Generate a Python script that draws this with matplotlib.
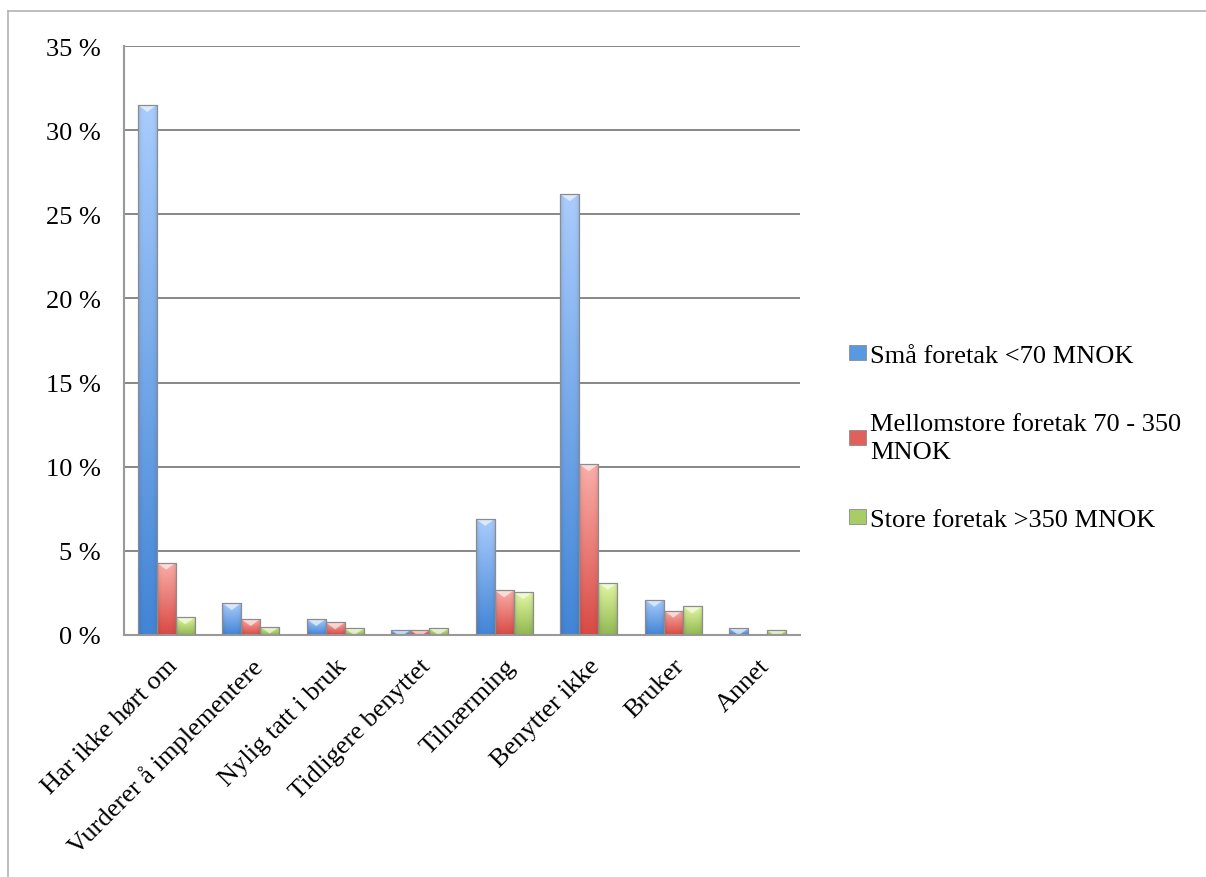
import numpy as np
import matplotlib
matplotlib.use("Agg")
import matplotlib.pyplot as plt
from matplotlib.patches import Polygon, Patch
from matplotlib.lines import Line2D
from matplotlib.ticker import MultipleLocator, FuncFormatter

# data (percent)
categories = ["Har ikke hørt om", "Vurderer å implementere", "Nylig tatt i bruk",
              "Tidligere benyttet", "Tilnærming", "Benytter ikke", "Bruker", "Annet"]
series_names = ["Små foretak <70 MNOK",
                "Mellomstore foretak 70 - 350\nMNOK",
                "Store foretak >350 MNOK"]
small = [31.5, 1.9, 0.95, 0.3, 6.9, 26.2, 2.1, 0.4]
medium = [4.3, 0.95, 0.75, 0.3, 2.65, 10.15, 1.45, 0.0]
large = [1.05, 0.5, 0.4, 0.4, 2.55, 3.1, 1.7, 0.28]

# top / bottom colours of the bar gradients
tops = [(0.66, 0.80, 0.99), (0.98, 0.68, 0.66), (0.89, 0.97, 0.64)]
bottoms = [(0.26, 0.52, 0.84), (0.85, 0.29, 0.27), (0.57, 0.72, 0.32)]
mids = [(0.35, 0.60, 0.88), (0.88, 0.38, 0.36), (0.66, 0.80, 0.40)]

plt.rcParams["font.family"] = ["Liberation Serif", "DejaVu Serif"]
plt.rcParams["font.size"] = 19

fig = plt.figure(figsize=(12.06, 8.78), dpi=100)
ax = fig.add_axes([124 / 1206, 1 - 636 / 878, (800 - 124) / 1206, (636 - 47) / 878])

x = np.arange(len(categories))
w = 0.225
gray = (0.55, 0.55, 0.55)


def shade_bar(patch, top, bot):
    # vertical gradient plus slightly darker sides, clipped to the bar
    x0, y0 = patch.get_x(), patch.get_y()
    bw, bh = patch.get_width(), patch.get_height()
    if bh <= 0:
        return
    t = np.linspace(0, 1, 64)[:, None, None]
    u = np.linspace(-1, 1, 24)[None, :, None]
    img = np.array(top) * (1 - t) + np.array(bot) * t
    img = img * (1 - 0.12 * u ** 4)
    img = np.clip(img, 0, 1)
    im = ax.imshow(img, extent=(x0, x0 + bw, y0, y0 + bh), aspect="auto",
                   origin="upper", interpolation="bilinear", zorder=2)
    im.set_clip_path(patch)
    # little bevel triangle at the top
    d = 0.42
    tri = Polygon([(x0, y0 + bh), (x0 + bw, y0 + bh), (x0 + bw / 2, y0 + bh - d)],
                  closed=True, facecolor="white", alpha=0.6, edgecolor="none", zorder=2.5)
    ax.add_patch(tri)
    tri.set_clip_path(patch)


for i, vals in enumerate([small, medium, large]):
    bars = ax.bar(x + (i - 1) * w, vals, w, facecolor="none",
                  edgecolor=gray, linewidth=0.9, zorder=3)
    for p in bars:
        shade_bar(p, tops[i], bottoms[i])

ax.set_xlim(-0.5, len(categories) - 0.5)
ax.set_ylim(0, 35)
ax.yaxis.set_major_locator(MultipleLocator(5))
ax.yaxis.set_major_formatter(FuncFormatter(lambda v, p: f"{v:.0f} %"))
ax.grid(axis="y", color=(0.53, 0.53, 0.53), linewidth=1.4, zorder=0)
ax.set_axisbelow(True)

ax.set_xticks(x)
ax.set_xticklabels(categories, rotation=45, ha="right", rotation_mode="anchor")
ax.tick_params(axis="both", length=0)
ax.tick_params(axis="y", pad=17)
ax.tick_params(axis="x", pad=14)

for s in ["top", "right"]:
    ax.spines[s].set_visible(False)
for s in ["left", "bottom"]:
    ax.spines[s].set_color((0.6, 0.6, 0.6))
    ax.spines[s].set_linewidth(1.5)

handles = [Patch(facecolor=mids[i], edgecolor=gray, linewidth=0.6) for i in range(3)]
leg = fig.legend(handles, series_names, loc="center left", bbox_to_anchor=(0.684, 0.5),
                 frameon=False, handlelength=0.65, handleheight=0.5, handletextpad=0.15,
                 labelspacing=1.75, fontsize=19)
for txt in leg.get_texts():
    txt.set_linespacing(1.3)

# outer chart frame (left and top edges visible)
fig.add_artist(Line2D([8 / 1206, 8 / 1206], [0, 1 - 12 / 878], color=(0.7, 0.7, 0.7), lw=1.2))
fig.add_artist(Line2D([8 / 1206, 1], [1 - 12 / 878, 1 - 12 / 878], color=(0.7, 0.7, 0.7), lw=1.2))

fig.savefig("out.png", dpi=100)
